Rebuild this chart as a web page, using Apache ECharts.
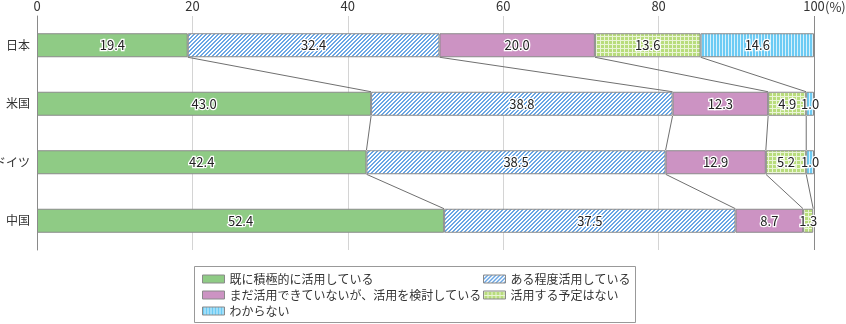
<!DOCTYPE html>
<html>
<head>
<meta charset="utf-8">
<script src="https://cdn.jsdelivr.net/npm/echarts@6/dist/echarts.min.js"></script>
<style>
  html, body { margin: 0; padding: 0; background: #fff; }
  #chart { width: 846px; height: 324px; }
</style>
</head>
<body>
<div id="chart"></div>
<script>
// Countries (top to bottom)
const categories = ['日本', '米国', 'ドイツ', '中国'];

// Share of respondents per answer (%)
const activeUse   = [19.4, 43.0, 42.4, 52.4];
const someUse     = [32.4, 38.8, 38.5, 37.5];
const considering = [20.0, 12.3, 12.9, 8.7];
const noPlan      = [13.6, 4.9, 5.2, 1.3];
const unknown     = [14.6, 1.0, 1.0, 0];

const seriesNames = [
  '既に積極的に活用している',
  'ある程度活用している',
  'まだ活用できていないが、活用を検討している',
  '活用する予定はない',
  'わからない'
];
const xTicks = [0, 20, 40, 60, 80, 100];

const FONT = '"Noto Sans CJK JP", "Noto Sans", sans-serif';

// --- fill patterns ---
function makeTile(w, h, draw) {
  const c = document.createElement('canvas');
  c.width = w; c.height = h;
  draw(c.getContext('2d'));
  return { image: c, repeat: 'repeat' };
}
// "/" hatching: blue on white
const diagBlue = makeTile(4, 4, g => {
  g.fillStyle = '#ffffff'; g.fillRect(0, 0, 4, 4);
  g.fillStyle = '#6aa6e4';
  for (let y = 0; y < 4; y++) {
    g.fillRect((3 - y + 4) % 4, y, 1, 1);
    g.fillRect((4 - y + 4) % 4, y, 1, 1);
  }
});
const gridGreen = makeTile(4, 4, g => {
  g.fillStyle = '#b8dc7c'; g.fillRect(0, 0, 4, 4);
  g.fillStyle = '#eaf5d6';
  g.fillRect(0, 0, 4, 1);
  g.fillRect(0, 0, 1, 4);
});
const vertCyan = makeTile(3, 3, g => {
  g.fillStyle = '#6ccbf4'; g.fillRect(0, 0, 3, 3);
  g.fillStyle = '#d6f1fc'; g.fillRect(2, 0, 1, 3);
});

const fills = ['#8fcb85', diagBlue, '#cc93c3', gridGreen, vertCyan];
const values = [activeUse, someUse, considering, noPlan, unknown];

// cumulative boundaries per country, used for the connector lines
const cum = categories.map((_, i) => {
  let s = 0;
  return values.map(v => (s += v[i], +s.toFixed(1)));
});
const connectorData = [];
for (let i = 0; i < categories.length - 1; i++) {
  for (let k = 0; k < 4; k++) {
    connectorData.push([cum[i][k], i, cum[i + 1][k]]);
  }
}

const BAR_W = 24;

const barSeries = seriesNames.map((name, s) => ({
  name,
  type: 'bar',
  stack: 'total',
  barWidth: BAR_W,
  data: values[s].map(v => (v > 0 ? v : null)),
  itemStyle: { color: fills[s], borderColor: '#8a8a8a', borderWidth: 1 },
  label: {
    show: true,
    position: 'inside',
    formatter: p => p.value.toFixed(1),
    color: '#222',
    fontFamily: FONT,
    fontSize: 13,
    textBorderColor: '#fff',
    textBorderWidth: 2.5
  },
  emphasis: { disabled: true },
  z: 3
}));

const connectors = {
  type: 'custom',
  name: 'connector',
  coordinateSystem: 'cartesian2d',
  encode: { x: 0, y: 1 },
  data: connectorData,
  silent: true,
  z: 2,
  renderItem(params, api) {
    const row = api.value(1);
    const p1 = api.coord([api.value(0), row]);
    const p2 = api.coord([api.value(2), row + 1]);
    return {
      type: 'line',
      shape: { x1: p1[0], y1: p1[1] + BAR_W / 2, x2: p2[0], y2: p2[1] - BAR_W / 2 },
      style: { stroke: '#707070', lineWidth: 1 }
    };
  }
};

const chart = echarts.init(document.getElementById('chart'), null, { renderer: 'canvas' });

const legendText = { fontFamily: FONT, fontSize: 12, color: '#333', lineHeight: 14 };
const legendCommon = {
  orient: 'vertical',
  icon: 'rect',
  itemWidth: 22,
  itemHeight: 8,
  itemGap: 2,
  padding: 0,
  selectedMode: false,
  textStyle: legendText,
  itemStyle: { borderColor: '#8a8a8a', borderWidth: 1 }
};

chart.setOption({
  animation: false,
  backgroundColor: '#fff',
  textStyle: { fontFamily: FONT },
  grid: { left: 37, right: 32, top: 16, bottom: 74, containLabel: false, outerBoundsMode: 'none' },
  xAxis: {
    type: 'value',
    position: 'top',
    min: xTicks[0],
    max: xTicks[xTicks.length - 1],
    interval: 20,
    axisLine: { show: false },
    axisTick: { show: false },
    axisLabel: { color: '#333', fontSize: 13, fontFamily: FONT, margin: 3 },
    splitLine: {
      show: true,
      lineStyle: { color: ['#8a8a8a', '#d4d4d4', '#d4d4d4', '#d4d4d4', '#d4d4d4', '#8a8a8a'], width: 1 }
    }
  },
  yAxis: {
    type: 'category',
    data: categories,
    inverse: true,
    axisLine: { show: true, lineStyle: { color: '#8a8a8a' } },
    axisTick: { show: false },
    axisLabel: { color: '#333', fontSize: 12, fontFamily: FONT, margin: 7 }
  },
  legend: [
    Object.assign({ left: 202, top: 272, data: [seriesNames[0], seriesNames[2], seriesNames[4]] }, legendCommon),
    Object.assign({ left: 483, top: 272, data: [seriesNames[1], seriesNames[3]] }, legendCommon)
  ],
  graphic: [
    {
      type: 'rect',
      shape: { x: 194.5, y: 266.5, width: 441, height: 56 },
      style: { fill: 'none', stroke: '#999', lineWidth: 1 },
      silent: true
    },
    {
      type: 'text',
      left: 825,
      top: 1,
      style: { text: '(%)', fontFamily: FONT, fontSize: 13, fill: '#333' }
    }
  ],
  series: [...barSeries, connectors]
});
</script>
</body>
</html>
